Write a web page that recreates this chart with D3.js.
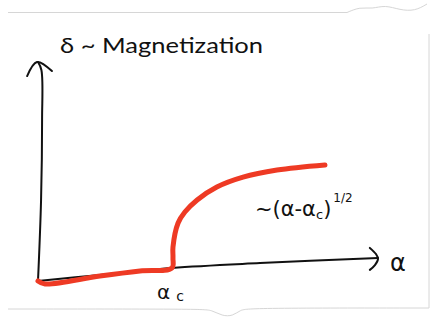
<!DOCTYPE html>
<html>
<head>
<meta charset="utf-8">
<script src="https://cdn.jsdelivr.net/npm/d3@7"></script>
<style>
    body { margin: 0; background: white; }
    svg { display: block; }
</style>
</head>
<body>
<div id="chart"></div>
<script>
"use strict"

const width = 433;
const height = 320;

// sketch units: alpha along the bottom, delta up the side
const alphaDomain = [0, 10];
const deltaDomain = [0, 10];

// red curve, order parameter vs alpha
const curveAlpha = [0, 0.21, 1.82, 3.0, 3.94, 3.97, 3.97, 4.12, 4.32, 4.68, 5.26, 6.03, 7.03, 8.44];
const curveDelta = [0.05, -0.09, 0.27, 0.5, 0.64, 1.09, 1.59, 2.68, 3.18, 3.73, 4.32, 4.77, 5.09, 5.32];

// hand drawn axes
const xAxisAlpha = [0, 1.82, 3.94, 6.53, 10];
const xAxisDelta = [0.05, 0.32, 0.64, 0.86, 1.09];
const xHeadAlpha = [9.76, 9.94, 10, 9.91, 9.76];
const xHeadDelta = [1.55, 1.27, 1.05, 0.77, 0.55];
const yAxisAlpha = [0, 0.09, 0.12, 0.1, 0];
const yAxisDelta = [0.05, 3.73, 7.36, 9.64, 10];
const yHeadAlpha = [-0.32, -0.03, 0.41];
const yHeadDelta = [9.36, 10, 9.59];

const titleText = "δ ~ Magnetization";
const alphaText = "α";
const criticalText = ["α", "c"];
const lawText = ["~(α-α", "c", ")", "1/2"];

const xScale = d3.scaleLinear().domain(alphaDomain).range([38, 378]);
const yScale = d3.scaleLinear().domain(deltaDomain).range([282, 62]);

const inkColor = "#111";
const redColor = "#ee3a24";
const paperEdge = "#d6d6d6";
const handFont = "Lato, 'Noto Sans', sans-serif";
const greekFont = "'DejaVu Sans', sans-serif";

const svg = d3.select("#chart")
    .append("svg")
        .attr("width", width)
        .attr("height", height);


function ZipPoints(xs, ys)
{
    return xs.map((x, i) => [x, ys[i]]);
}


function PaperLine(points, curve)
{
    const edge = d3.line().curve(curve);

    svg.append("path")
        .attr("d", edge(points))
        .attr("fill", "none")
        .attr("stroke", paperEdge)
        .attr("stroke-width", 1);
}


function DrawPaper()
{
    PaperLine([[8, 12.5], [347, 12.5]], d3.curveLinear);
    PaperLine([[347, 12.5], [360, 7], [372, 9], [385, 5], [400, 10], [415, 11], [427, 4]], d3.curveBasis);
    PaperLine([[429, 34], [429, 308]], d3.curveLinear);
    PaperLine([[429, 308], [250, 308], [240, 310], [233, 316], [222, 316], [212, 310], [200, 309], [8, 309]], d3.curveBasis);
}


function DrawStroke(xs, ys, color, size)
{
    const line = d3.line()
        .x(d => xScale(d[0]))
        .y(d => yScale(d[1]))
        .curve(d3.curveCatmullRom);

    svg.append("path")
        .attr("d", line(ZipPoints(xs, ys)))
        .attr("fill", "none")
        .attr("stroke", color)
        .attr("stroke-width", size)
        .attr("stroke-linecap", "round")
        .attr("stroke-linejoin", "round");
}


function DrawLabels()
{
    svg.append("text")
        .attr("x", xScale(0.65))
        .attr("y", yScale(10.41))
        .attr("font-family", handFont)
        .attr("font-size", 22)
        .attr("textLength", 203)
        .attr("lengthAdjust", "spacingAndGlyphs")
        .attr("fill", inkColor)
        .text(titleText);

    svg.append("text")
        .attr("x", xScale(10.35))
        .attr("y", yScale(0.5))
        .attr("font-family", greekFont)
        .attr("font-size", 24)
        .attr("fill", inkColor)
        .text(alphaText);

    const critical = svg.append("text")
        .attr("x", xScale(3.5))
        .attr("y", yScale(-0.77))
        .attr("font-family", greekFont)
        .attr("font-size", 20)
        .attr("fill", inkColor);
    critical.append("tspan").text(criticalText[0]);
    critical.append("tspan")
        .attr("dx", 6)
        .attr("dy", 2)
        .attr("font-size", 14)
        .text(criticalText[1]);

    const law = svg.append("text")
        .attr("x", xScale(6.38))
        .attr("y", yScale(3.0))
        .attr("font-family", greekFont)
        .attr("font-size", 21)
        .attr("fill", inkColor);
    law.append("tspan").text(lawText[0]);
    law.append("tspan")
        .attr("dy", 3)
        .attr("font-size", 13)
        .text(lawText[1]);
    law.append("tspan")
        .attr("dy", -3)
        .text(lawText[2]);
    law.append("tspan")
        .attr("dx", 2)
        .attr("dy", -14)
        .attr("font-size", 12)
        .text(lawText[3]);
}


DrawPaper();
DrawStroke(yAxisAlpha, yAxisDelta, inkColor, 2);
DrawStroke(yHeadAlpha, yHeadDelta, inkColor, 2);
DrawStroke(xAxisAlpha, xAxisDelta, inkColor, 2);
DrawStroke(xHeadAlpha, xHeadDelta, inkColor, 2);
DrawStroke(curveAlpha, curveDelta, redColor, 5);
DrawLabels();
</script>
</body>
</html>
